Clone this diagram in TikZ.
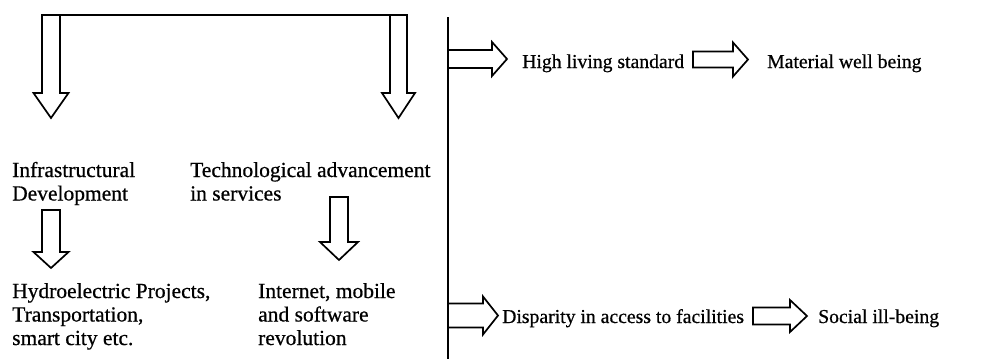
\documentclass[tikz,border=0pt]{standalone}
\usepackage{fontspec}
\setmainfont{Liberation Serif}[FakeBold=0.6]
\usetikzlibrary{calc}
\newcommand\baSW{8}
\newcommand\baHW{16}
\newcommand\baHL{15}
\tikzset{
  bsw/.store in=\baSW, bhw/.store in=\baHW, bhl/.store in=\baHL,
  barrow/.style={draw, line width=1.7pt, line join=miter},
  bright/.style={barrow, to path={
    ($(\tikztostart)+(0,-\baSW)$) -- ($(\tikztostart-|\tikztotarget)+(-\baHL,-\baSW)$)
    -- ($(\tikztostart-|\tikztotarget)+(-\baHL,-\baHW)$) -- (\tikztostart-|\tikztotarget)
    -- ($(\tikztostart-|\tikztotarget)+(-\baHL,\baHW)$) -- ($(\tikztostart-|\tikztotarget)+(-\baHL,\baSW)$)
    -- ($(\tikztostart)+(0,\baSW)$) -- cycle}},
  bdown/.style={barrow, to path={
    ($(\tikztostart)+(-\baSW,0)$) -- ($(\tikztostart|-\tikztotarget)+(-\baSW,-\baHL)$)
    -- ($(\tikztostart|-\tikztotarget)+(-\baHW,-\baHL)$) -- (\tikztostart|-\tikztotarget)
    -- ($(\tikztostart|-\tikztotarget)+(\baHW,-\baHL)$) -- ($(\tikztostart|-\tikztotarget)+(\baSW,-\baHL)$)
    -- ($(\tikztostart)+(\baSW,0)$) -- cycle}},
  ltxt/.style={inner sep=0pt, anchor=base west, align=left, font=\fontsize{21.5}{23.5}\selectfont},
  rtxt/.style={inner sep=0pt, anchor=base west, font=\fontsize{19.7}{23}\selectfont},
  ln/.style={line width=1.7pt}
}
\begin{document}
\begin{tikzpicture}[x=1pt,y=-1pt]
\useasboundingbox (0,0) rectangle (1000,359);
% text nodes (base anchor = baseline of the last line)
\node[ltxt] (infra) at (12,200.5) {Infrastructural\\Development};
\node[ltxt] (tech) at (190,200.5) {Technological advancement\\in services};
\node[ltxt] (hydro) at (12,345) {Hydroelectric Projects,\\Transportation,\\smart city etc.};
\node[ltxt] (inet) at (258,345) {Internet, mobile\\and software\\revolution};
\node[rtxt] (high) at (522,68) {High living standard};
\node[rtxt] (mat) at (767,68) {Material well being};
\node[rtxt] (disp) at (502,323) {Disparity in access to facilities};
\node[rtxt] (social) at (818,323) {Social ill-being};
% coordinates
\coordinate (barL) at (42,15);
\coordinate (barR) at (407,15);
\coordinate (vTop) at (448,17);
\coordinate (vBot) at (448,359);
\coordinate (a1s) at (51,15);    \coordinate (a1t) at (51,118);
\coordinate (a2s) at (398.5,15); \coordinate (a2t) at (398.5,118);
\coordinate (a3s) at (51,210);   \coordinate (a3t) at (51,268);
\coordinate (a4s) at (339,197);  \coordinate (a4t) at (339,260);
\coordinate (h1s) at (448,59);   \coordinate (h1t) at (507,59);
\coordinate (h2s) at (693,59.5); \coordinate (h2t) at (748,59.5);
\coordinate (h3s) at (448,315.5);\coordinate (h3t) at (498,315.5);
\coordinate (h4s) at (753,316);  \coordinate (h4t) at (807,316);
% lines
\draw[ln] (barL) -- (barR);
\draw[ln] (vTop) -- (vBot);
% block arrows
\draw[bdown, bsw=9, bhw=17.5, bhl=25] (a1s) to (a1t);
\draw[bdown, bsw=8.5, bhw=16.5, bhl=25] (a2s) to (a2t);
\draw[bdown, bsw=9, bhw=17.5, bhl=16] (a3s) to (a3t);
\draw[bdown, bsw=9, bhw=19, bhl=18] (a4s) to (a4t);
\draw[bright, bsw=9, bhw=17, bhl=15] (h1s) to (h1t);
\draw[bright, bsw=8, bhw=17, bhl=15] (h2s) to (h2t);
\draw[bright, bsw=12, bhw=19, bhl=15] (h3s) to (h3t);
\draw[bright, bsw=8.5, bhw=16, bhl=17] (h4s) to (h4t);
\end{tikzpicture}
\end{document}
